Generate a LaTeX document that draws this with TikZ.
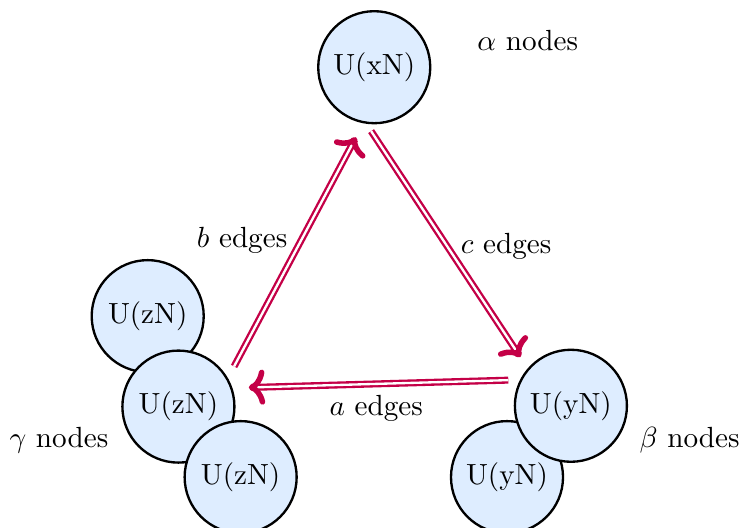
\documentclass[tikz,border=0pt]{standalone}
\usepackage{amsmath}
\usepackage{xcolor}
\usepackage{tikz}
\usetikzlibrary{arrows.meta,positioning,calc}
\definecolor{nodeblue}{rgb}{0.87,0.93,1.00}
\definecolor{edgered}{rgb}{0.77,0.00,0.28}

\begin{document}
\begin{tikzpicture}[font=\normalsize,
   un/.style={circle,draw,thick,fill=nodeblue,minimum size=13.5mm,inner sep=0pt},
   ed/.style={draw=edgered,double,line width=0.8pt,double distance=0.8pt},
   tip/.style={draw=edgered,line width=1.9pt,
               -{To[length=5.5pt,width=12pt,line width=1.9pt,round]}}]
  \useasboundingbox (0,0) rectangle (8.93,-6.36);
  \node[un] (xN)  at (4.51,-0.81) {U(xN)};
  \node[un] (zNa) at (1.78,-3.81) {U(zN)};
  \node[un] (zNb) at (2.15,-4.90) {U(zN)};
  \node[un] (zNc) at (2.90,-5.75) {U(zN)};
  \node[un] (yNb) at (6.11,-5.75) {U(yN)};
  \node[un] (yNa) at (6.88,-4.89) {U(yN)};
  \node at (6.36,-0.49) {$\alpha$ nodes};
  \node at (8.31,-5.30) {$\beta$ nodes};
  \node at (0.71,-5.30) {$\gamma$ nodes};
  % c edges
  \draw[ed,shorten <=3pt,shorten >=5.5pt] (xN.262) -- (yNa.139)
       node[pos=0.5,right=1pt] {$c$ edges};
  \draw[tip,shorten >=4.6pt] ($(yNa.139)!7pt!(xN.262)$) -- (yNa.139);
  % a edges
  \draw[ed,shorten <=4pt,shorten >=6.5pt] (yNa.153) -- (zNb.19)
       node[midway,below=0pt] {$a$ edges};
  \draw[tip,shorten >=5.6pt] ($(zNb.19)!7pt!(yNa.153)$) -- (zNb.19);
  % b edges
  \draw[ed,shorten <=4.5pt,shorten >=6.3pt] (zNb.30) -- (xN.259)
       node[pos=0.54,left=1pt] {$b$ edges};
  \draw[tip,shorten >=5.4pt] ($(xN.259)!7pt!(zNb.30)$) -- (xN.259);
\end{tikzpicture}
\end{document}
